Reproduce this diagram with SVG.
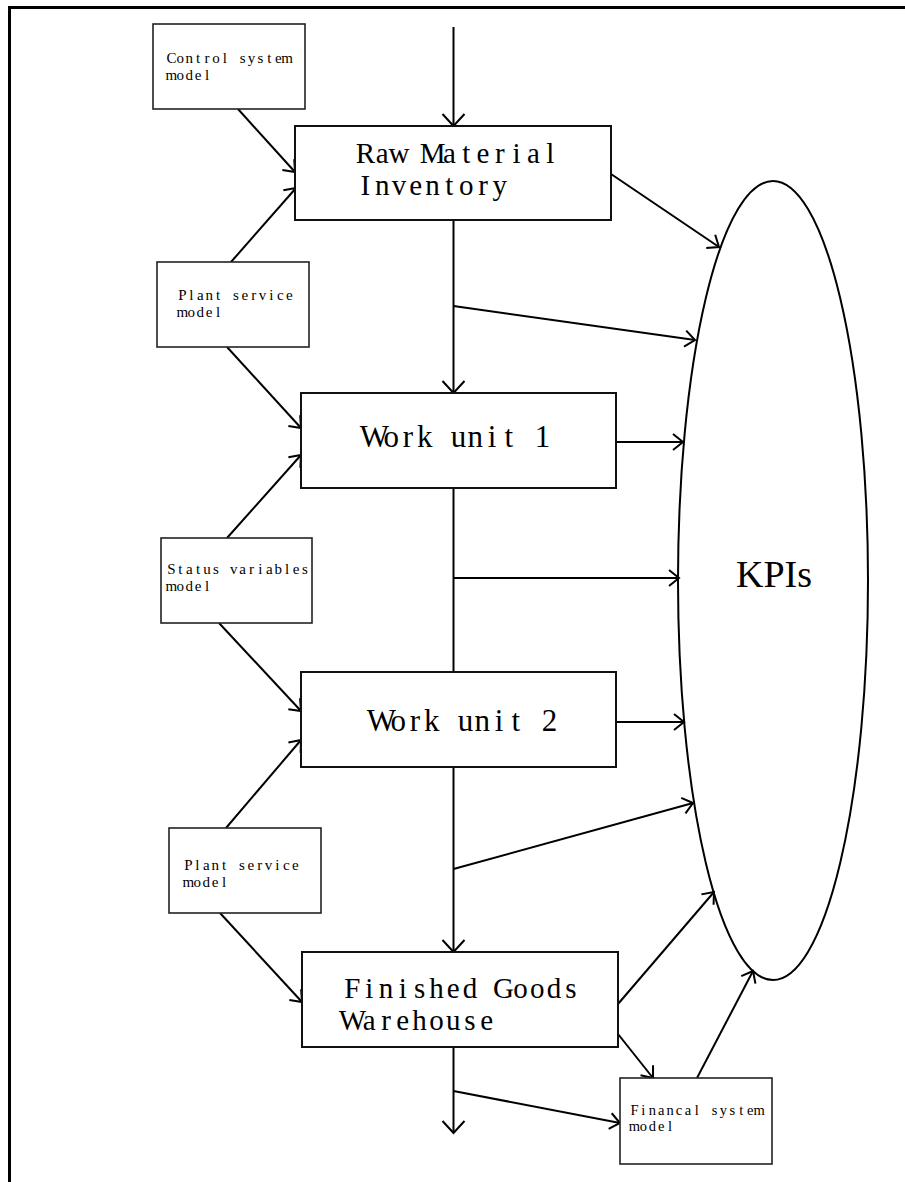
<svg xmlns="http://www.w3.org/2000/svg" width="905" height="1182" viewBox="0 0 905 1182">
  <style>
    .frame { fill: none; stroke: #000; stroke-width: 3; }
    .box { fill: #fff; stroke: #111; stroke-width: 2; }
    .sbox { fill: #fff; stroke: #222; stroke-width: 1.6; }
    .kpi { fill: #fff; stroke: #000; stroke-width: 2; }
    text { font-family: "Liberation Serif", "DejaVu Serif", serif; fill: #000; text-anchor: middle; }
    .big { font-size: 29px; }
    .one { font-size: 31px; }
    .small { font-size: 15px; }
    .tiny { font-size: 14.5px; }
    .kpit { font-size: 37px; text-anchor: start; }
    #connectors line { stroke: #000; stroke-width: 2; fill: none; }
  </style>
  <defs>
    <marker id="arr" markerUnits="userSpaceOnUse" markerWidth="24" markerHeight="24" viewBox="-14 -12 16 24" refX="0" refY="0" orient="auto">
      <path d="M-10,-8 L0,0 L-10,8" fill="none" stroke="#000" stroke-width="2"/>
    </marker>
    <marker id="arrBig" markerUnits="userSpaceOnUse" markerWidth="28" markerHeight="28" viewBox="-16 -14 18 28" refX="0" refY="0" orient="auto">
      <path d="M-12,-11 L0,0 L-12,11" fill="none" stroke="#000" stroke-width="2"/>
    </marker>
  </defs>

  <rect width="905" height="1182" fill="#fff"/>
  <!-- page frame, open on the right and bottom -->
  <path class="frame" d="M9.5,1182 L9.5,7.5 L905,7.5"/>

  <!-- KPI ellipse drawn first so arrows sit on its outline -->
  <g id="kpis">
    <ellipse class="kpi" cx="773" cy="580.5" rx="95" ry="399.5"/>
    <text class="kpit" x="736" y="587" textLength="76" lengthAdjust="spacingAndGlyphs">KPIs</text>
  </g>

  <g id="connectors">
    <line x1="453.5" y1="27" x2="453.5" y2="126" marker-end="url(#arrBig)"/>
    <line x1="238" y1="109" x2="295" y2="172" marker-end="url(#arr)"/>
    <line x1="231" y1="262" x2="296" y2="188" marker-end="url(#arr)"/>
    <line x1="453.5" y1="220" x2="453.5" y2="393" marker-end="url(#arrBig)"/>
    <line x1="453.5" y1="306" x2="695" y2="340" marker-end="url(#arr)"/>
    <line x1="611" y1="174" x2="719" y2="247" marker-end="url(#arr)"/>
    <line x1="227" y1="347" x2="301" y2="428" marker-end="url(#arr)"/>
    <line x1="227" y1="538" x2="301" y2="455" marker-end="url(#arr)"/>
    <line x1="616" y1="442" x2="683" y2="442" marker-end="url(#arr)"/>
    <line x1="453.5" y1="488" x2="453.5" y2="672"/>
    <line x1="453.5" y1="578" x2="679" y2="578" marker-end="url(#arr)"/>
    <line x1="219" y1="623" x2="301" y2="711" marker-end="url(#arr)"/>
    <line x1="226" y1="828" x2="301" y2="740" marker-end="url(#arr)"/>
    <line x1="616" y1="722" x2="684" y2="722" marker-end="url(#arr)"/>
    <line x1="453.5" y1="767" x2="453.5" y2="952" marker-end="url(#arrBig)"/>
    <line x1="453.5" y1="869" x2="693" y2="803" marker-end="url(#arr)"/>
    <line x1="220" y1="913" x2="302" y2="1002" marker-end="url(#arr)"/>
    <line x1="618" y1="1004" x2="714" y2="892" marker-end="url(#arr)"/>
    <line x1="618" y1="1034" x2="653" y2="1078" marker-end="url(#arr)"/>
    <line x1="697" y1="1078" x2="753" y2="971" marker-end="url(#arr)"/>
    <line x1="453.5" y1="1047" x2="453.5" y2="1133" marker-end="url(#arrBig)"/>
    <line x1="453.5" y1="1091" x2="620" y2="1123" marker-end="url(#arr)"/>
  </g>

  <!-- labels use fixed character cells: one x per glyph, each centred -->
  <g id="control-system-model">
    <rect class="sbox" x="153" y="24" width="152" height="85"/>
    <text class="small" x="171.45 180.35 189.25 198.15 207.05 215.95 224.85 233.75 242.65 251.55 260.45 269.35 278.25 287.15" y="63">Control system</text>
    <text class="small" x="171.45 180.35 189.25 198.15 207.05" y="80">model</text>
  </g>

  <g id="raw-material-inventory">
    <rect class="box" x="295" y="126" width="316" height="94"/>
    <text class="big" x="365.4 382.2 399 415.8 432.6 449.4 466.2 483 499.8 516.6 533.4 550.2" y="163">Raw Material</text>
    <text class="big" x="365.4 382.2 399 415.8 432.6 449.4 466.2 483 499.8" y="195">Inventory</text>
  </g>

  <g id="plant-service-model-1">
    <rect class="sbox" x="157" y="262" width="152" height="85"/>
    <text class="small" x="182.45 191.35 200.25 209.15 218.05 226.95 235.85 244.75 253.65 262.55 271.45 280.35 289.25" y="300">Plant service</text>
    <text class="small" x="182.45 191.35 200.25 209.15 218.05" y="317">model</text>
  </g>

  <g id="work-unit-1">
    <rect class="box" x="301" y="393" width="315" height="95"/>
    <text class="one" x="374.4 391.2 408 424.8 441.6 458.4 475.2 492 508.8 525.6 542.4" y="447">Work unit 1</text>
  </g>

  <g id="status-variables-model">
    <rect class="sbox" x="161" y="538" width="151" height="85"/>
    <text class="small" x="171.45 180.35 189.25 198.15 207.05 215.95 224.85 233.75 242.65 251.55 260.45 269.35 278.25 287.15 296.05 304.95" y="574">Status variables</text>
    <text class="small" x="171.45 180.35 189.25 198.15 207.05" y="591">model</text>
  </g>

  <g id="work-unit-2">
    <rect class="box" x="301" y="672" width="315" height="95"/>
    <text class="one" x="381.4 398.2 415 431.8 448.6 465.4 482.2 499 515.8 532.6 549.4" y="731">Work unit 2</text>
  </g>

  <g id="plant-service-model-2">
    <rect class="sbox" x="169" y="828" width="152" height="85"/>
    <text class="small" x="188.45 197.35 206.25 215.15 224.05 232.95 241.85 250.75 259.65 268.55 277.45 286.35 295.25" y="870">Plant service</text>
    <text class="small" x="188.45 197.35 206.25 215.15 224.05" y="887">model</text>
  </g>

  <g id="finished-goods-warehouse">
    <rect class="box" x="302" y="952" width="316" height="95"/>
    <text class="big" x="352.4 369.2 386 402.8 419.6 436.4 453.2 470 486.8 503.6 520.4 537.2 554 570.8" y="998">Finished Goods</text>
    <text class="big" x="352.4 369.2 386 402.8 419.6 436.4 453.2 470 486.8" y="1030">Warehouse</text>
  </g>

  <g id="financial-system-model">
    <rect class="sbox" x="620" y="1078" width="152" height="86"/>
    <text class="tiny" x="634.45 643.35 652.25 661.15 670.05 678.95 687.85 696.75 705.65 714.55 723.45 732.35 741.25 750.15 759.05" y="1115">Financal system</text>
    <text class="tiny" x="634.45 643.35 652.25 661.15 670.05" y="1131">model</text>
  </g>
</svg>
